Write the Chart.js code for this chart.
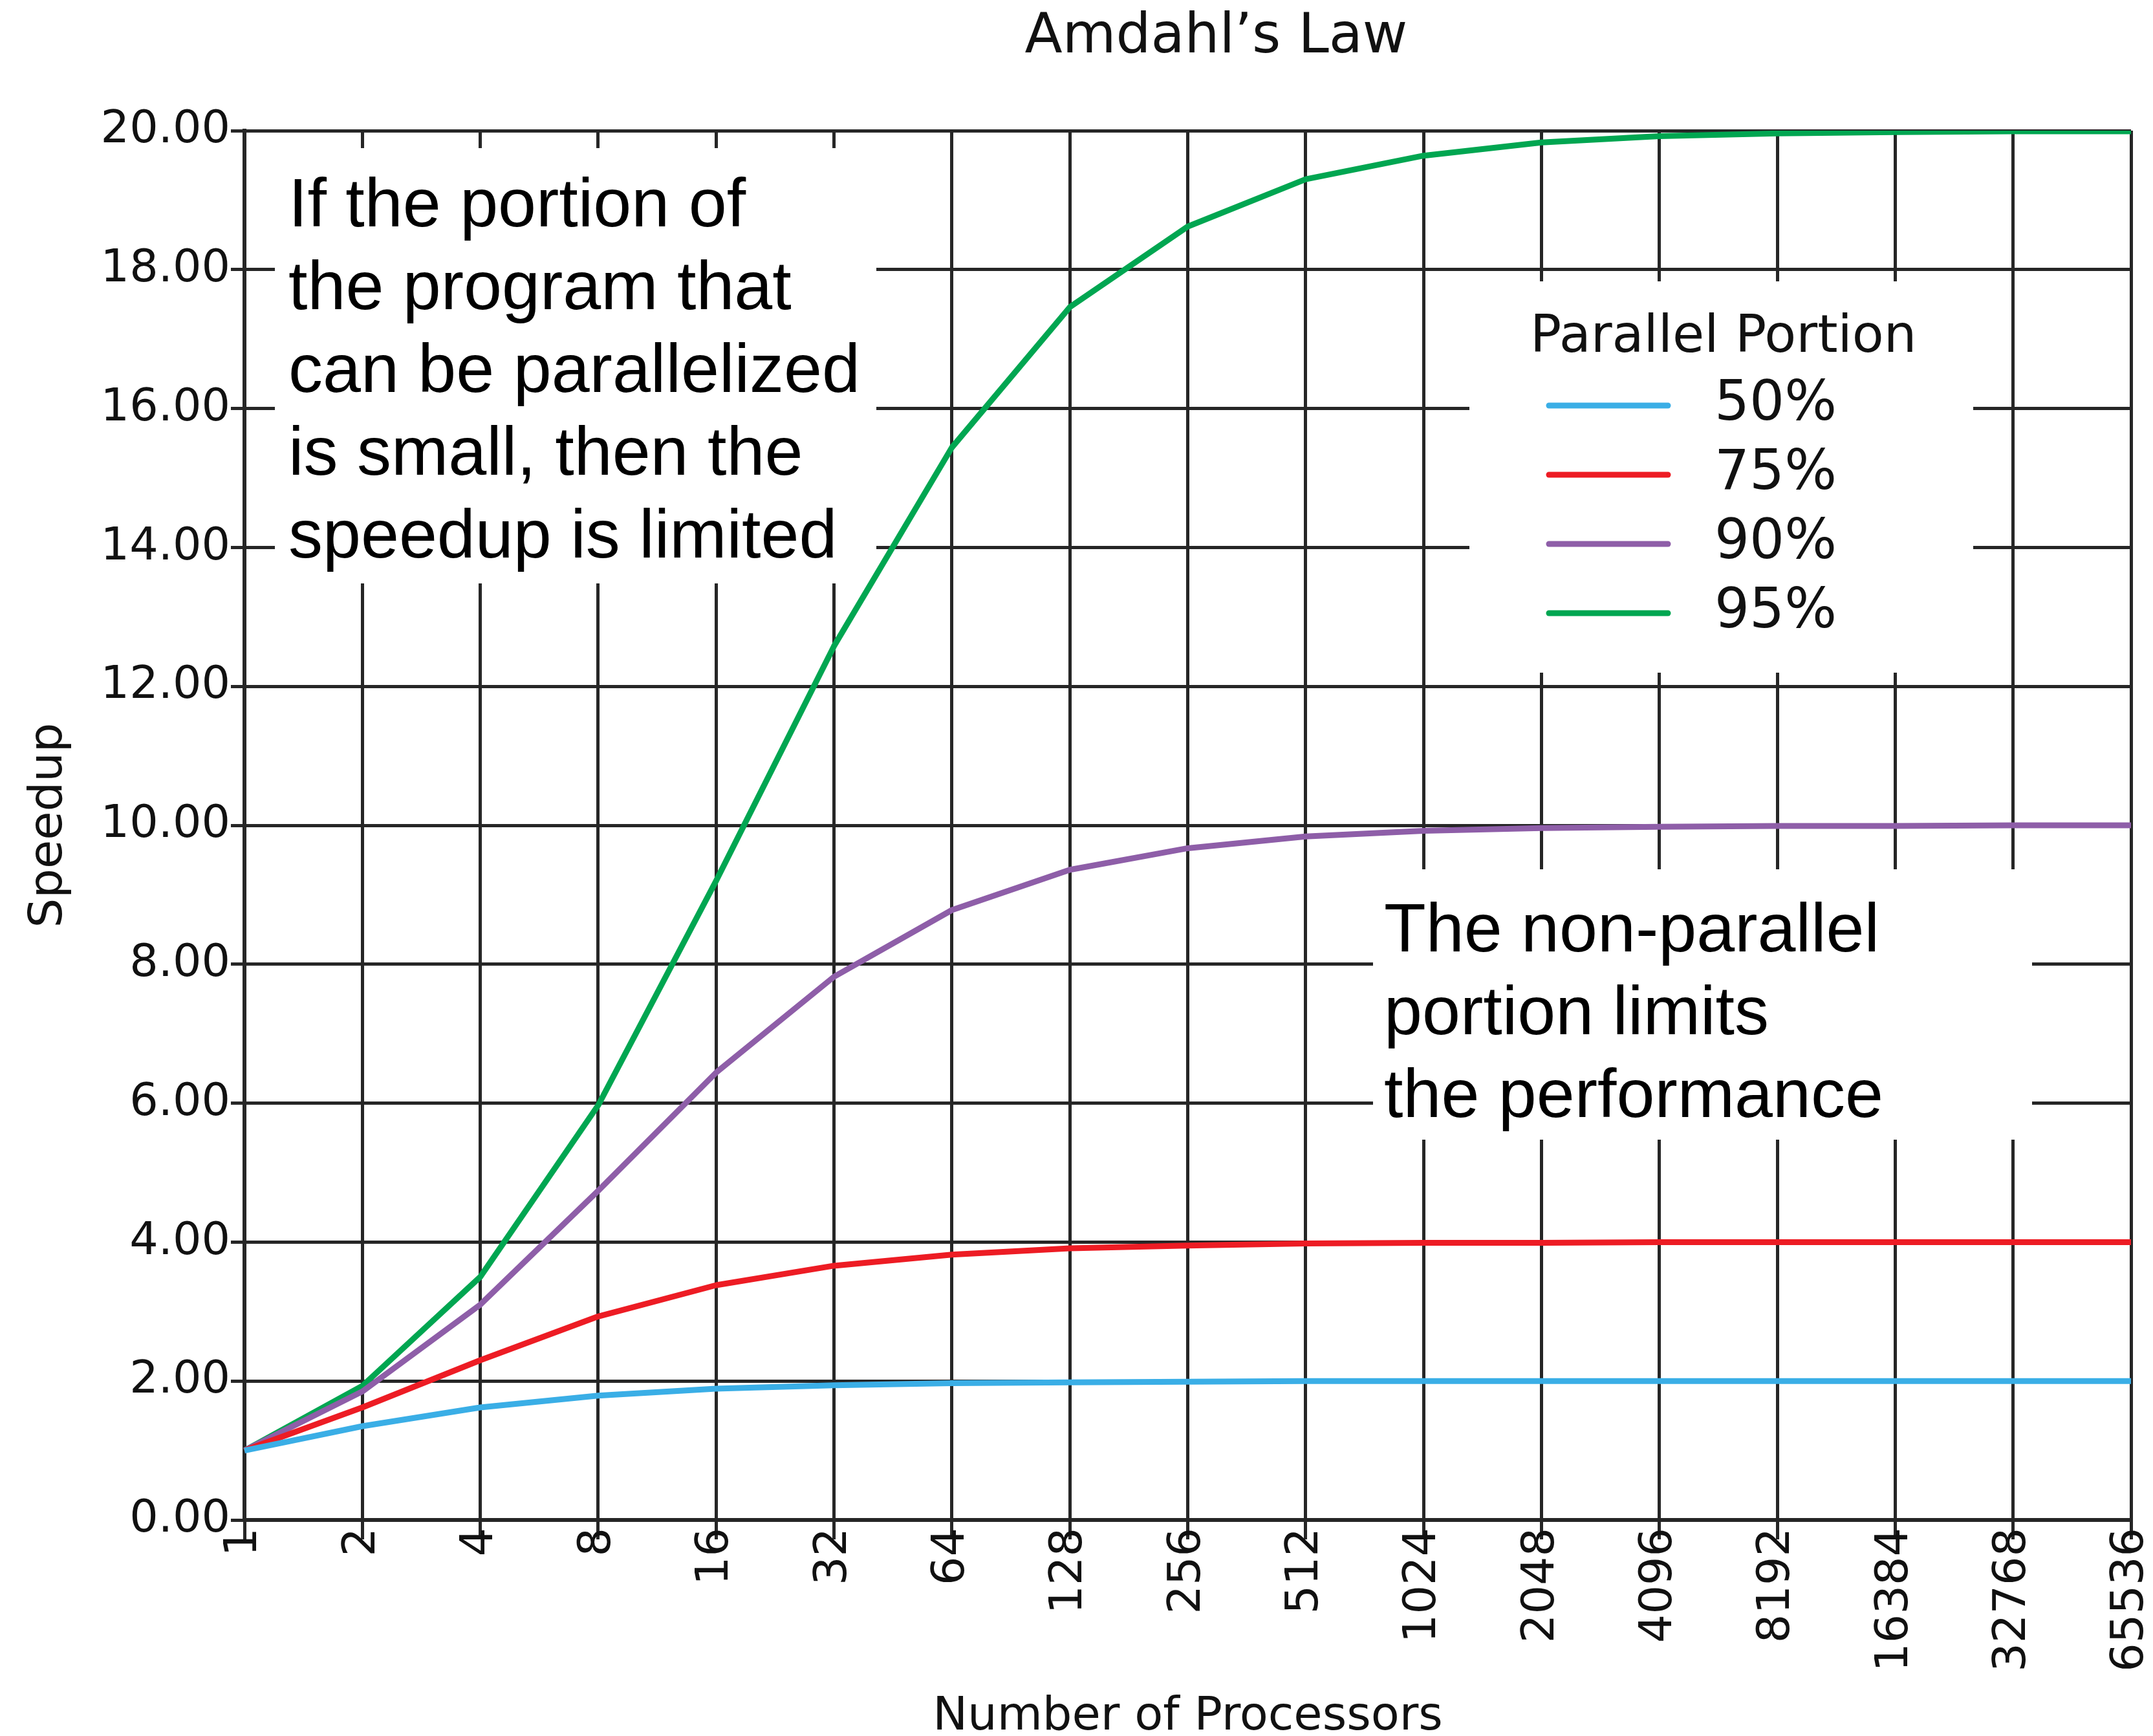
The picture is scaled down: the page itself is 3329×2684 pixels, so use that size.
<!DOCTYPE html>
<html>
<head>
<meta charset="utf-8">
<script src="https://cdn.jsdelivr.net/npm/chart.js@4.4.0/dist/chart.umd.min.js"></script>
<style>
  html, body { margin: 0; padding: 0; background: #fff; }
</style>
</head>
<body>
<canvas id="amdahlChart" width="3329" height="2684"></canvas>
<script>
// values
const processors = ['1', '2', '4', '8', '16', '32', '64', '128', '256', '512', '1024', '2048', '4096', '8192', '16384', '32768', '65536'];
const portions = ['50%', '75%', '90%', '95%'];
const speedup50 = [1.0, 1.35, 1.62, 1.79, 1.89, 1.94, 1.97, 1.98, 1.99, 2.0, 2.0, 2.0, 2.0, 2.0, 2.0, 2.0, 2.0];
const speedup75 = [1.0, 1.62, 2.3, 2.93, 3.38, 3.66, 3.82, 3.91, 3.95, 3.98, 3.99, 3.99, 4.0, 4.0, 4.0, 4.0, 4.0];
const speedup90 = [1.0, 1.85, 3.1, 4.74, 6.44, 7.82, 8.78, 9.36, 9.67, 9.84, 9.92, 9.96, 9.98, 9.99, 9.99, 10.0, 10.0];
const speedup95 = [1.0, 1.93, 3.5, 5.97, 9.2, 12.58, 15.44, 17.46, 18.62, 19.3, 19.64, 19.83, 19.92, 19.96, 19.98, 19.99, 19.99];
const yMin = 0, yMax = 20, yStep = 2;
const lineColors = ['rgb(58, 174, 230)', 'rgb(237, 28, 36)', 'rgb(142, 94, 168)', 'rgb(0, 166, 81)'];
const noteLeft = ['If the portion of', 'the program that', 'can be parallelized', 'is small, then the', 'speedup is limited'];
const noteRight = ['The non-parallel', 'portion limits', 'the performance'];

const axisFont = 'DejaVu Sans';
const gridColor = '#262626';

// white boxes with the two notes and the legend, drawn over the grid but under the lines
const boxesPlugin = {
    id: 'boxes',
    afterLayout(chart) {
        // the title sits a little right of the plot centre
        if (chart.titleBlock) {
            chart.titleBlock.left += 44;
            chart.titleBlock.right += 44;
        }
    },
    beforeDatasetsDraw(chart) {
        const ctx = chart.ctx;
        ctx.save();
        ctx.fillStyle = '#fff';
        ctx.fillRect(425, 229, 930, 673);
        ctx.fillRect(2123, 1344, 1019, 418);
        ctx.fillRect(2272, 435, 779, 605);

        ctx.fillStyle = '#000';
        ctx.font = '106px "Liberation Sans"';
        ctx.textAlign = 'left';
        ctx.textBaseline = 'alphabetic';
        noteLeft.forEach((line, i) => ctx.fillText(line, 446, 350 + i * 128));
        noteRight.forEach((line, i) => ctx.fillText(line, 2140, 1471 + i * 128));

        // legend
        ctx.fillStyle = '#111';
        ctx.font = '80px "' + axisFont + '"';
        ctx.textBaseline = 'middle';
        ctx.fillText('Parallel Portion', 2366, 523);
        ctx.font = '85px "' + axisFont + '"';
        chart.data.datasets.forEach((ds, i) => {
            const y = 627 + i * 107;
            ctx.strokeStyle = ds.borderColor;
            ctx.lineWidth = 9;
            ctx.lineCap = 'round';
            ctx.beginPath();
            ctx.moveTo(2395, y);
            ctx.lineTo(2579, y);
            ctx.stroke();
            ctx.fillText(ds.label, 2651, y);
        });
        ctx.restore();
    }
};

const datasets = [speedup50, speedup75, speedup90, speedup95].map((values, i) => ({
    label: portions[i],
    data: values,
    borderColor: lineColors[i],
    backgroundColor: lineColors[i],
    borderWidth: 9,
    pointRadius: 0,
    tension: 0,
    fill: false,
    borderJoinStyle: 'round'
}));

const ctx = document.getElementById('amdahlChart').getContext('2d');
const myChart = new Chart(ctx, {
    type: 'line',
    data: {
        labels: processors,
        datasets: datasets
    },
    options: {
        responsive: false,
        animation: false,
        layout: { padding: { left: 0, right: 34, top: 0, bottom: 0 } },
        plugins: {
            legend: { display: false },
            tooltip: { enabled: false },
            title: {
                display: true,
                text: 'Amdahl\u2019s Law',
                fullSize: false,
                color: '#111',
                font: { family: axisFont, size: 85, weight: 'normal', lineHeight: 1.2 },
                padding: { top: 8, bottom: 92 }
            }
        },
        scales: {
            x: {
                offset: false,
                grid: { color: gridColor, lineWidth: 5, tickLength: 30 },
                border: { color: gridColor, width: 6 },
                ticks: {
                    autoSkip: false,
                    minRotation: 90,
                    maxRotation: 90,
                    padding: -18,
                    color: '#111',
                    font: { family: axisFont, size: 70 }
                },
                title: {
                    display: true,
                    text: 'Number of Processors',
                    color: '#111',
                    font: { family: axisFont, size: 72, lineHeight: 0.8 },
                    padding: { top: 0, bottom: 0 }
                },
                afterFit(scale) {
                    scale.height = 334;
                    scale.paddingLeft = 0;
                    scale.paddingRight = 0;
                }
            },
            y: {
                min: yMin,
                max: yMax,
                grid: { color: gridColor, lineWidth: 5, tickLength: 21 },
                border: { color: gridColor, width: 6 },
                ticks: {
                    stepSize: yStep,
                    padding: 1,
                    color: '#111',
                    font: { family: axisFont, size: 70 },
                    callback: (v) => v.toFixed(2)
                },
                title: {
                    display: true,
                    text: 'Speedup',
                    color: '#111',
                    font: { family: axisFont, size: 72, lineHeight: 1.2 },
                    padding: { top: 33, bottom: 0 }
                },
                afterFit(scale) {
                    scale.width = 378;
                }
            }
        }
    },
    plugins: [boxesPlugin]
});
</script>
</body>
</html>
